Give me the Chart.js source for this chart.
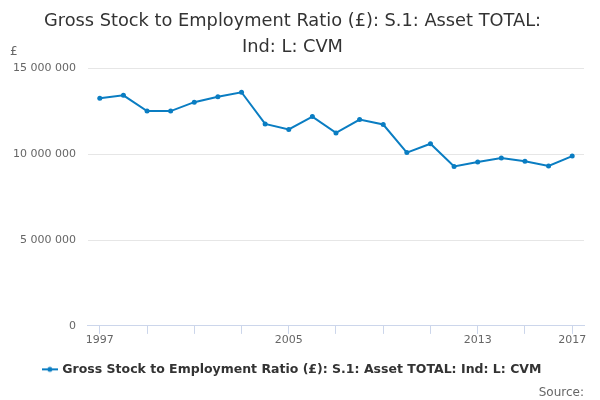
<!DOCTYPE html>
<html>
    <head>
        <title>Gross Stock to Employment Ratio</title>
        <meta charset="UTF-8">
        <script src="https://cdn.jsdelivr.net/npm/chart.js@4"></script>
        <style>
            body { margin: 0; background: #fff; }
            #wrap { width: 600px; height: 400px; }
        </style>
    </head>
    <body>

        <div id="wrap">
        <canvas id="myChart"></canvas>
        </div>

        <script>
            var years = ['1997', '1998', '1999', '2000', '2001', '2002', '2003', '2004', '2005', '2006',
                '2007', '2008', '2009', '2010', '2011', '2012', '2013', '2014', '2015', '2016', '2017'];
            var ratio = [13270000, 13440000, 12520000, 12520000, 13040000, 13360000, 13620000, 11770000,
                11450000, 12200000, 11250000, 12030000, 11740000, 10100000, 10620000, 9290000,
                9550000, 9780000, 9600000, 9320000, 9900000];
            var shownYears = ['1997', '2005', '2013', '2017'];
            var seriesName = 'Gross Stock to Employment Ratio (£): S.1: Asset TOTAL: Ind: L: CVM';
            var lineColor = '#0a7dc2';

            // little line+dot symbol for the legend
            var sym = document.createElement('canvas');
            sym.width = 16;
            sym.height = 8;
            var sc = sym.getContext('2d');
            sc.strokeStyle = lineColor;
            sc.lineWidth = 2;
            sc.beginPath();
            sc.moveTo(0, 4);
            sc.lineTo(16, 4);
            sc.stroke();
            sc.fillStyle = lineColor;
            sc.beginPath();
            sc.arc(8, 4, 2.5, 0, Math.PI * 2);
            sc.fill();

            var poundLabel = {
                id: 'poundLabel',
                afterDraw: function (chart) {
                    var c = chart.ctx;
                    c.save();
                    c.font = '12px "DejaVu Sans"';
                    c.fillStyle = '#666';
                    c.textAlign = 'left';
                    c.textBaseline = 'middle';
                    c.fillText('£', 10, 52);
                    c.restore();
                }
            };

            Chart.defaults.font.family = '"DejaVu Sans", sans-serif';
            Chart.defaults.color = '#666';

            var ctx = document.getElementById('myChart');
            var myLineChart = new Chart(ctx, {
                type: 'line',
                data: {
                    labels: years,
                    datasets: [{
                        label: seriesName,
                        data: ratio,
                        borderColor: lineColor,
                        backgroundColor: lineColor,
                        borderWidth: 2,
                        pointRadius: 2.5,
                        pointBorderWidth: 0,
                        pointHoverRadius: 3,
                        tension: 0
                    }]
                },
                options: {
                    responsive: true,
                    maintainAspectRatio: false,
                    animation: false,
                    layout: { padding: { left: 1, right: 16, top: 4, bottom: 0 } },
                    plugins: {
                        title: {
                            display: true,
                            text: ['Gross Stock to Employment Ratio (£): S.1: Asset TOTAL:', 'Ind: L: CVM'],
                            color: '#333',
                            font: { size: 17.8, weight: 'normal', lineHeight: 1.42 },
                            padding: { top: 5, bottom: 9 }
                        },
                        subtitle: {
                            display: true,
                            position: 'bottom',
                            align: 'end',
                            text: 'Source:',
                            color: '#666',
                            font: { size: 12 },
                            padding: { top: 0, bottom: 0 }
                        },
                        legend: {
                            position: 'bottom',
                            labels: {
                                color: '#333',
                                font: { size: 12.5, weight: 'bold' },
                                usePointStyle: true,
                                generateLabels: function (chart) {
                                    var items = Chart.defaults.plugins.legend.labels.generateLabels(chart);
                                    items.forEach(function (it) { it.pointStyle = sym; });
                                    return items;
                                },
                                padding: 2
                            }
                        },
                        tooltip: { enabled: false }
                    },
                    scales: {
                        x: {
                            offset: true,
                            afterFit: function (s) { s.height += 14; },
                            grid: {
                                display: true,
                                drawOnChartArea: false,
                                offset: false,
                                tickLength: 8,
                                tickColor: function (c) {
                                    return c.index % 2 === 0 ? '#ccd6eb' : 'rgba(0,0,0,0)';
                                }
                            },
                            border: { display: true, color: '#ccd6eb' },
                            ticks: {
                                autoSkip: false,
                                maxRotation: 0,
                                padding: 0,
                                font: { size: 11 },
                                callback: function (v) {
                                    var y = this.getLabelForValue(v);
                                    return shownYears.indexOf(y) >= 0 ? y : '';
                                }
                            }
                        },
                        y: {
                            min: 0,
                            max: 15000000,
                            grid: { color: '#e6e6e6', drawTicks: false },
                            border: { display: false },
                            ticks: {
                                stepSize: 5000000,
                                padding: 12,
                                font: { size: 11 },
                                callback: function (v) {
                                    return String(v).replace(/\B(?=(\d{3})+(?!\d))/g, ' ');
                                }
                            }
                        }
                    }
                },
                plugins: [poundLabel]
            });
        </script>
    </body>
</html>
